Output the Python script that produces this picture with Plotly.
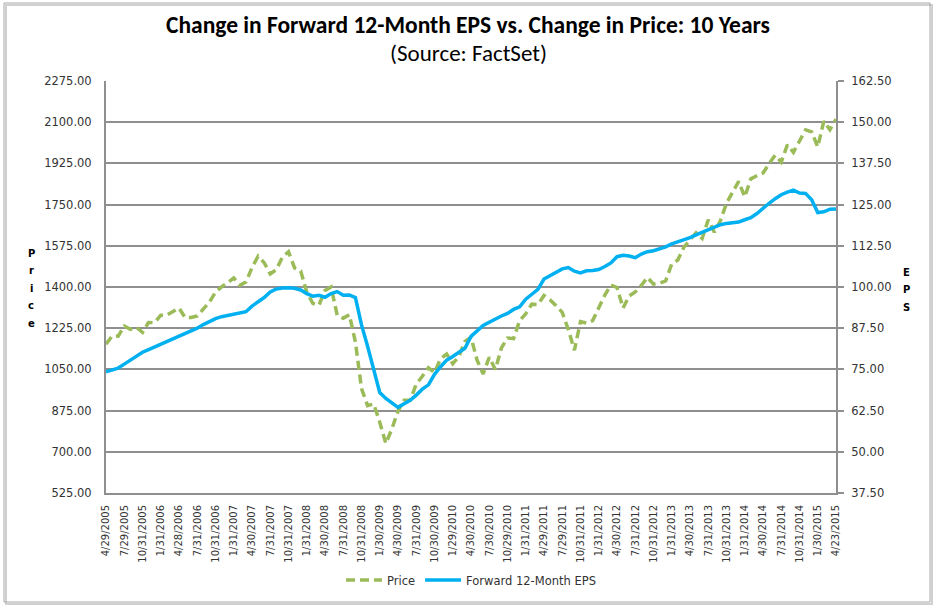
import plotly.graph_objects as go
import pandas as pd

# ---------------- data ----------------
dates = [d.strftime("%-m/%-d/%Y") for d in pd.date_range("2005-04-01", "2015-03-31", freq="BME")] + ["4/23/2015"]

tick_labels = [
    "4/29/2005", "7/29/2005", "10/31/2005", "1/31/2006", "4/28/2006", "7/31/2006",
    "10/31/2006", "1/31/2007", "4/30/2007", "7/31/2007", "10/31/2007", "1/31/2008",
    "4/30/2008", "7/31/2008", "10/31/2008", "1/30/2009", "4/30/2009", "7/31/2009",
    "10/30/2009", "1/29/2010", "4/30/2010", "7/30/2010", "10/29/2010", "1/31/2011",
    "4/29/2011", "7/29/2011", "10/31/2011", "1/31/2012", "4/30/2012", "7/31/2012",
    "10/31/2012", "1/31/2013", "4/30/2013", "7/31/2013", "10/31/2013", "1/31/2014",
    "4/30/2014", "7/31/2014", "10/31/2014", "1/30/2015", "4/23/2015",
]

price = [
    1156.85, 1191.50, 1191.33, 1234.18, 1220.33, 1228.81, 1207.01, 1249.48, 1248.29,
    1280.08, 1280.66, 1294.83, 1310.61, 1270.09, 1270.20, 1276.66, 1303.82, 1335.85, 1377.94, 1400.63, 1418.30,
    1438.24, 1406.82, 1420.86, 1482.37, 1530.62, 1503.35, 1455.27, 1473.99, 1526.75, 1549.38, 1481.14, 1468.36,
    1378.55, 1330.63, 1322.70, 1385.59, 1400.38, 1280.00, 1267.38, 1282.83, 1166.36, 968.75, 896.24, 903.25,
    825.88, 735.09, 797.87, 872.81, 919.14, 919.32, 987.48, 1020.62, 1057.08, 1036.19, 1095.63, 1115.10,
    1073.87, 1104.49, 1169.43, 1186.69, 1089.41, 1030.71, 1101.60, 1049.33, 1141.20, 1183.26, 1180.55, 1257.64,
    1286.12, 1327.22, 1325.83, 1363.61, 1345.20, 1320.64, 1292.28, 1218.89, 1131.42, 1253.30, 1246.96, 1257.60,
    1312.41, 1365.68, 1408.47, 1397.91, 1310.33, 1362.16, 1379.32, 1406.58, 1440.67, 1412.16, 1416.18, 1426.19,
    1498.11, 1514.68, 1569.19, 1597.57, 1630.74, 1606.28, 1685.73, 1632.97, 1681.55, 1756.54, 1805.81, 1848.36,
    1782.59, 1859.45, 1872.34, 1883.95, 1923.57, 1960.23, 1930.67, 2003.37, 1972.29, 2018.05, 2067.56, 2058.90,
    1994.99, 2104.50, 2067.89, 2112.93,
]

eps = [
    74.3, 74.8, 75.4, 76.6, 77.8, 79.2, 80.2, 81.0, 81.8,
    82.6, 83.4, 84.1, 84.9, 85.7, 86.6, 87.5, 88.6, 89.5, 90.4, 91.0, 91.4,
    91.6, 92.0, 92.5, 94.2, 95.4, 96.8, 98.5, 99.4, 99.7, 99.8, 99.6, 99.1,
    98.0, 97.2, 97.5, 96.9, 98.0, 98.6, 97.5, 97.6, 96.8, 88.5, 82.0, 75.0,
    68.0, 66.2, 64.8, 63.5, 64.6, 65.6, 67.2, 69.0, 70.3, 73.5, 75.8, 77.8,
    78.9, 80.0, 81.4, 85.0, 86.8, 88.3, 89.3, 90.4, 91.2, 92.0, 93.2, 94.0,
    96.3, 97.8, 99.3, 102.4, 103.4, 104.3, 105.5, 105.9, 104.8, 104.3, 104.9, 105.0,
    105.3, 106.2, 107.3, 109.2, 109.6, 109.4, 108.9, 110.0, 110.7, 111.0, 111.6, 112.2,
    113.1, 113.7, 114.3, 115.0, 115.8, 116.6, 117.5, 118.3, 118.9, 119.3, 119.6, 119.7,
    120.4, 121.0, 122.3, 124.0, 125.4, 126.8, 128.0, 128.8, 129.4, 128.5, 128.4, 126.5,
    122.6, 122.8, 123.6, 123.7,
]

price_ticks = [525, 700, 875, 1050, 1225, 1400, 1575, 1750, 1925, 2100, 2275]
eps_ticks = [37.5, 50, 62.5, 75, 87.5, 100, 112.5, 125, 137.5, 150, 162.5]

# ---------------- figure ----------------
W, H = 936, 606
L, R, T, B = 106, 100, 81, 113
PW, PH = W - L - R, H - T - B

def px(x):
    return (x - L) / PW

def py(y):
    return (H - B - y) / PH

FAM = "DejaVu Sans, Verdana, sans-serif"
YTICKFONT = dict(family=FAM, size=11.5, color="#333333")
XTICKFONT = dict(family=FAM, size=10, color="#333333")
GRID = "#8f8f8f"
TITLEFAM = "Carlito, 'Liberation Sans Narrow', 'Open Sans', sans-serif"

fig = go.Figure()
fig.add_trace(go.Scatter(
    x=dates, y=price, name="Price", mode="lines",
    line=dict(color="#9BBB59", width=3.5, dash="9px,5px"),
    yaxis="y",
))
fig.add_trace(go.Scatter(
    x=dates, y=eps, name="Forward 12-Month EPS", mode="lines",
    line=dict(color="#00B0F0", width=3.5),
    yaxis="y2",
))

fig.update_layout(
    width=W, height=H,
    margin=dict(l=L, r=R, t=T, b=B),
    paper_bgcolor="white", plot_bgcolor="white",
    showlegend=True,
    legend=dict(orientation="h", x=px(471), xanchor="center", y=py(580), yanchor="middle",
                font=dict(family=FAM, size=11.5, color="#333333"),
                traceorder="normal", itemwidth=36),
    xaxis=dict(
        type="category", range=[0, len(dates) - 1],
        tickmode="array", tickvals=tick_labels, ticktext=tick_labels,
        tickangle=-90, tickfont=XTICKFONT, showgrid=False,
        showline=True, linecolor=GRID, linewidth=2, ticks="", ticklen=0,
        ticklabelstandoff=6,
    ),
    yaxis=dict(
        range=[525, 2275], tickmode="array", tickvals=price_ticks, tickformat=".2f",
        tickfont=YTICKFONT, showgrid=True, gridcolor=GRID, gridwidth=2,
        showline=True, linecolor=GRID, linewidth=2, zeroline=False, ticks="",
        ticklabelstandoff=10,
    ),
    yaxis2=dict(
        range=[37.5, 162.5], tickmode="array", tickvals=eps_ticks, tickformat=".2f",
        tickfont=YTICKFONT, overlaying="y", side="right", showgrid=False,
        showline=True, linecolor=GRID, linewidth=2, zeroline=False,
        ticks="outside", ticklen=6, tickcolor=GRID, tickwidth=2,
        ticklabelstandoff=5,
    ),
)

# Titles
fig.add_annotation(text="<b>Change in Forward 12-Month EPS vs. Change in Price: 10 Years</b>",
                   xref="paper", yref="paper", x=px(468), y=py(25), showarrow=False,
                   xanchor="center", yanchor="middle",
                   font=dict(family=TITLEFAM, size=23.5, color="#000000"))
fig.add_annotation(text="(Source: FactSet)",
                   xref="paper", yref="paper", x=px(468), y=py(53), showarrow=False,
                   xanchor="center", yanchor="middle",
                   font=dict(family=TITLEFAM, size=23, color="#000000"))

# Stacked axis titles
for k, ch in enumerate("Price"):
    fig.add_annotation(text="<b>%s</b>" % ch, xref="paper", yref="paper",
                       x=px(31), y=py(253 + k * 17.5), showarrow=False,
                       xanchor="center", yanchor="middle",
                       font=dict(family=FAM, size=10, color="#000000"))
for k, ch in enumerate("EPS"):
    fig.add_annotation(text="<b>%s</b>" % ch, xref="paper", yref="paper",
                       x=px(906), y=py(272 + k * 17.5), showarrow=False,
                       xanchor="center", yanchor="middle",
                       font=dict(family=FAM, size=10, color="#000000"))

# Outer chart frame with a soft shadow
fig.add_shape(type="rect", xref="paper", yref="paper",
              x0=px(6), x1=px(932), y0=py(604), y1=py(5),
              line=dict(color="#d0d0d0", width=2), fillcolor="rgba(0,0,0,0)", layer="below")
fig.add_shape(type="rect", xref="paper", yref="paper",
              x0=px(4), x1=px(930), y0=py(602), y1=py(3),
              line=dict(color="#a6a6a6", width=1), fillcolor="rgba(0,0,0,0)", layer="below")

fig.write_html("out.html")
